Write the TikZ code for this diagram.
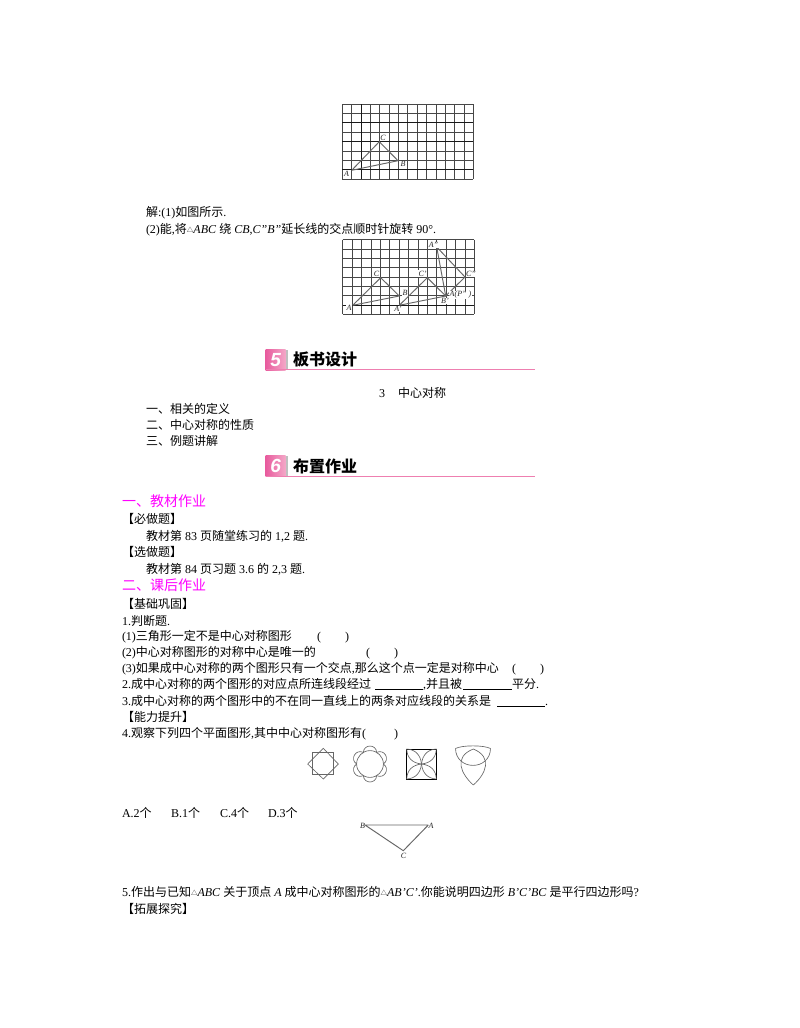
\documentclass[tikz,border=0pt]{standalone}
\usepackage{fontspec}
\setmainfont[Ligatures=ResetAll]{Liberation Serif}
\newfontfamily\cjkf{Noto Sans CJK SC}
\newfontfamily\iconf{Liberation Sans}
\newcommand\z[1]{{\cjkf #1}}
\newcommand\tri{\raisebox{1pt}{\fontsize{6.5}{7}\selectfont\z{△}}}
\newcount\txtn
\newcommand\tx[3]{\global\advance\txtn by 1 \node[txt] (t\the\txtn) at (#1,#2+1) {#3};}
\definecolor{hpink}{HTML}{EE7FB0}
\definecolor{hleft}{HTML}{E85C9E}
\definecolor{hright}{HTML}{F4A8C8}
\definecolor{hmag}{HTML}{FF00FF}
\tikzset{
  txt/.style={anchor=base west,inner sep=0pt,outer sep=0pt,font=\fontsize{12}{14}\selectfont,text=black},
  mag/.style={txt,font=\fontsize{14}{16}\selectfont,text=hmag},
  head/.style={anchor=base west,inner sep=0pt,font=\fontsize{16}{18}\selectfont\bfseries},
  gridline/.style={draw=black!72,line width=.75pt},
  gridheavy/.style={draw=black!90,line width=.9pt},
  figline/.style={draw=black!60,line width=.95pt},
  lab/.style={inner sep=0pt,font=\fontsize{8}{9}\selectfont\itshape,text=black!85},
  shapeline/.style={draw=black!60,line width=.65pt},
  blank/.style={draw=black,line width=.6pt},
}
\newcommand\icon[3]{% y-top, digit, name
  \fill[black!25] (284,#1+.5) rectangle (288,#1+21);
  \node[draw=none,inner sep=0pt,minimum width=20pt,minimum height=21pt,anchor=north west,left color=hleft,right color=hright] (#3) at (265.5,#1) {};
  \node[inner sep=0pt,text=white,font=\iconf\fontsize{19}{20}\selectfont\bfseries\itshape] at (#3.center) {#2};
  \fill[hpink] (265.5,#1+20.4) rectangle (535,#1+21.3);
}
\begin{document}
\begin{tikzpicture}[x=1pt,y=-1pt]
\useasboundingbox (0,0) rectangle (800,1028);
\fill[white] (0,0) rectangle (800,1028);

% grid 1
\foreach \i in {0,...,14} \draw[gridline] (342.3+\i*9.36,104) -- (342.3+\i*9.36,179.3);
\foreach \j in {0,...,8} \draw[gridline] (342.3,104+\j*9.41) -- (473.3,104+\j*9.41);
\draw[gridheavy] (361,104) -- (361,179.3);
\foreach \j in {2,4,7} \draw[gridheavy] (342.3,104+\j*9.41) -- (473.3,104+\j*9.41);
\coordinate (A1) at (351.7,170.3);
\coordinate (B1) at (398,160.7);
\coordinate (C1) at (379.3,141.7);
\draw[figline] (A1) -- (C1) -- (B1) -- (A1);
\node[lab] (la1) at (346.5,174) {A};
\node[lab] (lb1) at (403,164) {B};
\node[lab] (lc1) at (383,138) {C};

\tx{146}{215}{\z{解}:(1)\z{如图所示}.}
\tx{146}{232}{(2)\z{能},\z{将}\tri\textit{ABC} \z{绕} \textit{CB},\textit{C"B"}\z{延长线的交点顺时针旋转} 90°.}

% grid 2
\foreach \i in {0,...,14} \draw[gridline] (342.7+\i*9.4,239.7) -- (342.7+\i*9.4,314.3);
\foreach \j in {0,...,8} \draw[gridline] (342.7,239.7+\j*9.33) -- (474.3,239.7+\j*9.33);
\foreach \j in {7} \draw[gridheavy] (342.7,239.7+\j*9.33) -- (474.3,239.7+\j*9.33);
\coordinate (A2) at (352.7,305.3);
\coordinate (B2) at (399.3,296);
\coordinate (C2) at (380.7,277.7);
\coordinate (A3) at (399.3,305.3);
\coordinate (B3) at (445.7,296);
\coordinate (C3) at (427.3,277.7);
\coordinate (A4) at (436.7,247);
\coordinate (C4) at (465,277);
\draw[figline] (A2) -- (C2) -- (B2) -- (A2);
\draw[figline] (A3) -- (C3) -- (B3) -- (A3);
\draw[figline] (A4) -- (C4) -- (B3) -- (A4);
\node[lab,fill=white,inner sep=.5pt] (la2) at (349,308) {A};
\node[lab,fill=white,inner sep=.5pt] (lb2) at (405,293) {B};
\node[lab,fill=white,inner sep=.5pt] (lc2) at (376.5,273.5) {C};
\node[lab,fill=white,inner sep=.5pt] (la3) at (398,309) {A'};
\node[lab,fill=white,inner sep=.5pt] (lb3) at (445,301) {B'};
\node[lab,fill=white,inner sep=.5pt] (lc3) at (422.5,273.5) {C'};
\node[lab,fill=white,inner sep=.5pt] (la4) at (433.5,245) {A"};
\node[lab,fill=white,inner sep=.5pt] (lc4) at (471,274) {C"};
\node[lab,fill=white,inner sep=.5pt,anchor=west] (lp) at (449,295) {A({\itshape P"} )};

% headers
\icon{349}{5}{ic5}
\node[head] (h5) at (293,365) {\cjkf\bfseries 板书设计};
\icon{455.5}{6}{ic6}
\node[head] (h6) at (293,472) {\cjkf\bfseries 布置作业};

\tx{379}{396}{3\hspace{1.1em}\z{中心对称}}
\tx{146}{412}{\z{一、相关的定义}}
\tx{146}{428}{\z{二、中心对称的性质}}
\tx{146}{444}{\z{三、例题讲解}}

\node[mag,anchor=base west] (m1) at (122,506) {\cjkf 一、教材作业};
\tx{122}{522}{\z{【必做题】}}
\tx{146}{539}{\z{教材第} 83 \z{页随堂练习的} 1,2 \z{题}.}
\tx{122}{555}{\z{【选做题】}}
\tx{146}{572}{\z{教材第} 84 \z{页习题} 3.6 \z{的} 2,3 \z{题}.}
\node[mag,anchor=base west] (m2) at (122,590) {\cjkf 二、课后作业};
\tx{122}{607}{\z{【基础巩固】}}
\tx{122}{624}{1.\z{判断题}.}
\tx{122}{639}{(1)\z{三角形一定不是中心对称图形}}
\tx{317}{639}{(}\tx{345}{639}{)}
\tx{122}{655}{(2)\z{中心对称图形的对称中心是唯一的}}
\tx{366}{655}{(}\tx{394}{655}{)}
\tx{122}{671}{(3)\z{如果成中心对称的两个图形只有一个交点},\z{那么这个点一定是对称中心}}
\tx{512}{671}{(}\tx{540}{671}{)}
\tx{122}{687}{2.\z{成中心对称的两个图形的对应点所连线段经过}}
\tx{423}{687}{,\z{并且被}}
\tx{512}{687}{\z{平分}.}
\tx{122}{704}{3.\z{成中心对称的两个图形中的不在同一直线上的两条对应线段的关系是}}
\tx{545}{704}{.}
\coordinate (u1a) at (375,689); \coordinate (u1b) at (423,689);
\coordinate (u2a) at (463,689); \coordinate (u2b) at (512,689);
\coordinate (u3a) at (497,706); \coordinate (u3b) at (545,706);
\draw[blank] (u1a) -- (u1b); \draw[blank] (u2a) -- (u2b); \draw[blank] (u3a) -- (u3b);
\tx{122}{720}{\z{【能力提升】}}
\tx{122}{736}{4.\z{观察下列四个平面图形},\z{其中中心对称图形有}(}
\tx{394}{736}{)}

% figure a: two squares
\draw[shapeline] (312.3,752.7) rectangle (333.3,774.3);
\draw[shapeline] (323.3,748.3) -- (338.3,764) -- (323.3,779) -- (307.7,764) -- cycle;

% figure b: circle with six petals
\draw[shapeline] (370,764) circle (13.4);
\foreach \t in {30,90,150,210,270,330}
  \draw[shapeline] ({370+13.4*cos(\t-30)},{764-13.4*sin(\t-30)})
    .. controls ({370+21*cos(\t-17)},{764-21*sin(\t-17)}) and ({370+21*cos(\t+17)},{764-21*sin(\t+17)})
    .. ({370+13.4*cos(\t+30)},{764-13.4*sin(\t+30)});

% figure c: square with four leaves
\draw[draw=black,line width=.9pt] (406.7,749) rectangle (436.3,779);
\coordinate (q) at (421.5,764);
\foreach \sx/\sy in {1/1,1/-1,-1/1,-1/-1}{
  \draw[shapeline] (q) .. controls (421.5+\sx*1,764+\sy*9) and (421.5+\sx*6,764+\sy*14.5) .. (421.5+\sx*14.8,764+\sy*15);
  \draw[shapeline] (q) .. controls (421.5+\sx*9,764+\sy*1) and (421.5+\sx*14.5,764+\sy*6) .. (421.5+\sx*14.8,764+\sy*15);
}

% figure d: three leaves
\coordinate (T1) at (455.5,748.5);
\coordinate (T2) at (490.5,748.5);
\coordinate (T3) at (473.3,785);
\coordinate (Tp) at (473.3,749);
\draw[shapeline] (T1) .. controls (462,745) and (484,745) .. (T2);
\draw[shapeline] (T1) .. controls (456,771) and (490,771) .. (T2);
\draw[shapeline] (T3) .. controls (461,774) and (453,757) .. (Tp);
\draw[shapeline] (T3) .. controls (486,774) and (493,757) .. (Tp);

\tx{122}{816}{A.2\z{个}}
\tx{171}{816}{B.1\z{个}}
\tx{220}{816}{C.4\z{个}}
\tx{268}{816}{D.3\z{个}}

% triangle
\coordinate (A5) at (428.3,825);
\coordinate (B5) at (365,825);
\coordinate (C5) at (403.3,850.7);
\draw[figline] (A5) -- (B5) -- (C5) -- (A5);
\node[lab] (la5) at (431,825.5) {A};
\node[lab] (lb5) at (362.5,825.5) {B};
\node[lab] (lc5) at (403.5,855.5) {C};

\tx{122}{895}{5.\z{作出与已知}\tri\textit{ABC} \z{关于顶点} \textit{A} \z{成中心对称图形的}\tri\textit{AB'C'}.\z{你能说明四边形} \textit{B'C'BC} \z{是平行四边形吗}?}
\tx{122}{912}{\z{【拓展探究】}}
\end{tikzpicture}
\end{document}
